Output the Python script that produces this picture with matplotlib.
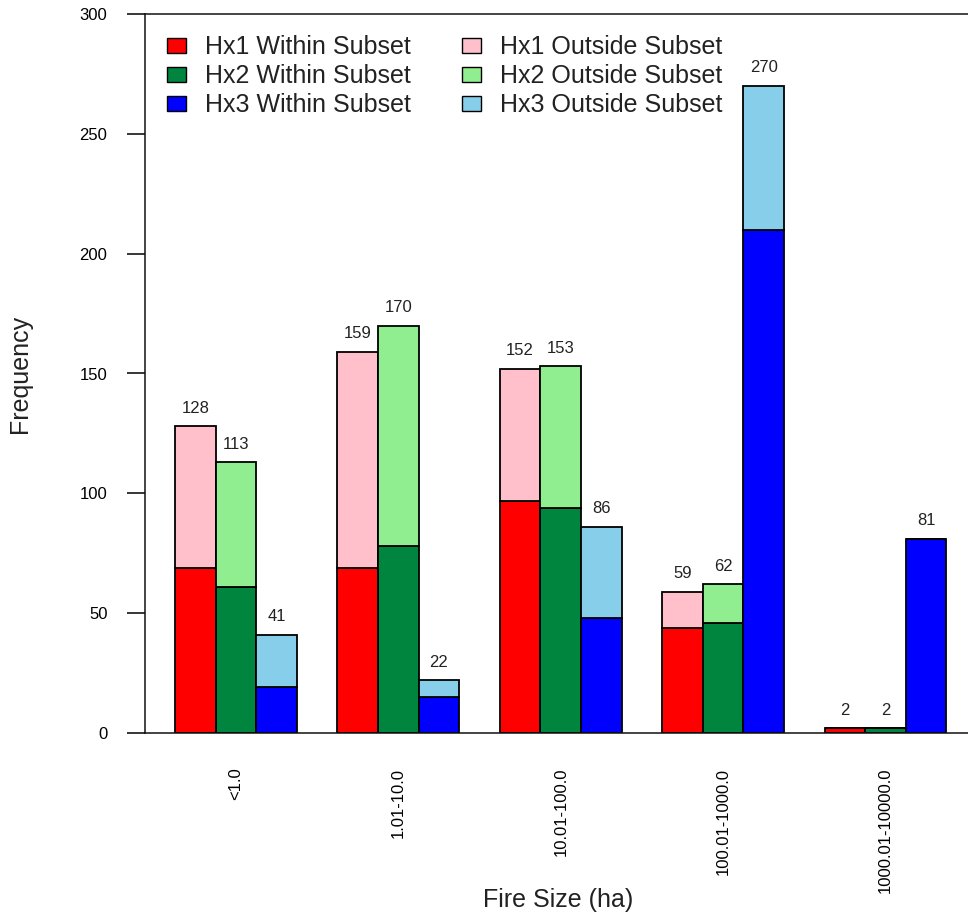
import matplotlib
matplotlib.use("Agg")
import matplotlib.pyplot as plt
from matplotlib.patches import Patch
import numpy as np

plt.rcParams['font.family'] = ['Liberation Sans', 'DejaVu Sans']

categories = ["<1.0", "1.01-10.0", "10.01-100.0", "100.01-1000.0", "1000.01-10000.0"]
series = ["Hx1", "Hx2", "Hx3"]

# counts of fires inside the subset and totals (inside + outside)
within = {
    "Hx1": [69, 69, 97, 44, 2],
    "Hx2": [61, 78, 94, 46, 2],
    "Hx3": [19, 15, 48, 210, 81],
}
totals = {
    "Hx1": [128, 159, 152, 59, 2],
    "Hx2": [113, 170, 153, 62, 2],
    "Hx3": [41, 22, 86, 270, 81],
}

within_colors = {"Hx1": "#FF0000", "Hx2": "#00853F", "Hx3": "#0000FF"}
outside_colors = {"Hx1": "#FFC0CB", "Hx2": "#90EE90", "Hx3": "#87CEEB"}

fig = plt.figure(figsize=(9.68, 9.18), dpi=100)
ax = fig.add_axes([145 / 968, (918 - 733) / 918, 1 - 145 / 968, (733 - 14) / 918])

n_groups = len(categories)
group_pos = np.arange(n_groups) * 4.0
edge_lw = 1.3

for j, s in enumerate(series):
    x = group_pos + j
    w = np.array(within[s])
    t = np.array(totals[s])
    outside = t - w
    ax.bar(x, w, width=1.0, color=within_colors[s], edgecolor="black", linewidth=edge_lw, zorder=2)
    ax.bar(x, outside, bottom=w, width=1.0, color=outside_colors[s], edgecolor="black",
           linewidth=edge_lw, zorder=2)
    for xi, ti in zip(x, t):
        ax.annotate(str(ti), (xi, ti), xytext=(0, 13), textcoords="offset points",
                    ha="center", va="center", fontsize=12, color="#222222")

ax.set_xlim(-1.24, 19.03)
ax.set_ylim(0, 300)
ax.set_yticks(np.arange(0, 301, 50))
ax.set_xticks(group_pos + 1)
ax.set_xticklabels(categories, rotation=90, fontsize=12)
ax.tick_params(axis="x", length=0, pad=25)
ax.tick_params(axis="y", length=13, width=1.1, pad=14, labelsize=12)

for side in ("top", "bottom", "left"):
    ax.spines[side].set_linewidth(1.1)
    ax.spines[side].set_color("#111111")
ax.spines["right"].set_visible(False)

ax.set_ylabel("Frequency", fontsize=18, color="#222222", va="center")
ax.yaxis.set_label_coords(-(145 - 20) / 823, 0.5)
ax.set_xlabel("Fire Size (ha)", fontsize=18, color="#222222", va="center")
ax.xaxis.set_label_coords((558 - 145) / 823, -(900 - 733) / 719)

handles = [Patch(facecolor=within_colors[s], edgecolor="black", linewidth=1.0) for s in series] + \
          [Patch(facecolor=outside_colors[s], edgecolor="black", linewidth=1.0) for s in series]
labels = [f"{s} Within Subset" for s in series] + [f"{s} Outside Subset" for s in series]
leg = ax.legend(handles, labels, ncol=2, loc="upper left", bbox_to_anchor=(-0.004, 1.0056),
                frameon=False, fontsize=18, handlelength=0.76, handleheight=0.56,
                handletextpad=0.76, labelspacing=0.21, columnspacing=2.04, borderaxespad=0.6)
for txt in leg.get_texts():
    txt.set_color("#222222")

fig.savefig("out.png", dpi=100)
